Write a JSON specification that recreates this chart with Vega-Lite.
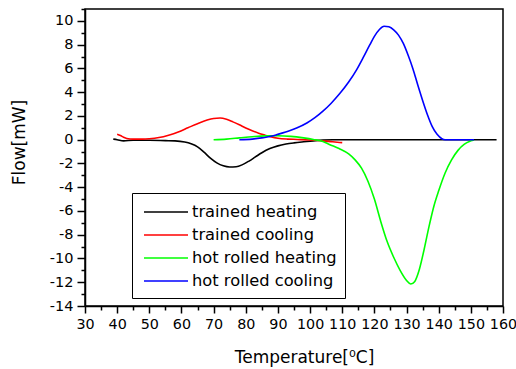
{
  "$schema": "https://vega.github.io/schema/vega-lite/v6.json",
  "width": 418,
  "height": 297,
  "autosize": "none",
  "padding": {"left": 85, "top": 9, "right": 13, "bottom": 63},
  "background": "white",
  "config": {
    "view": {"stroke": "black", "strokeWidth": 1.5},
    "font": "DejaVu Sans"
  },
  "data": {
    "values": [
      {"T": 38.8, "F": 0.05, "s": "trained heating"},
      {"T": 40, "F": 0, "s": "trained heating"},
      {"T": 42, "F": -0.1, "s": "trained heating"},
      {"T": 45, "F": -0.05, "s": "trained heating"},
      {"T": 50, "F": -0.05, "s": "trained heating"},
      {"T": 55, "F": -0.08, "s": "trained heating"},
      {"T": 58, "F": -0.1, "s": "trained heating"},
      {"T": 61, "F": -0.2, "s": "trained heating"},
      {"T": 63, "F": -0.35, "s": "trained heating"},
      {"T": 65, "F": -0.6, "s": "trained heating"},
      {"T": 67, "F": -1.05, "s": "trained heating"},
      {"T": 69, "F": -1.55, "s": "trained heating"},
      {"T": 71, "F": -1.95, "s": "trained heating"},
      {"T": 73, "F": -2.2, "s": "trained heating"},
      {"T": 75, "F": -2.3, "s": "trained heating"},
      {"T": 77, "F": -2.28, "s": "trained heating"},
      {"T": 79, "F": -2.1, "s": "trained heating"},
      {"T": 81, "F": -1.8, "s": "trained heating"},
      {"T": 83, "F": -1.45, "s": "trained heating"},
      {"T": 85, "F": -1.1, "s": "trained heating"},
      {"T": 87.5, "F": -0.75, "s": "trained heating"},
      {"T": 90, "F": -0.52, "s": "trained heating"},
      {"T": 92.5, "F": -0.37, "s": "trained heating"},
      {"T": 95, "F": -0.27, "s": "trained heating"},
      {"T": 98, "F": -0.18, "s": "trained heating"},
      {"T": 101, "F": -0.1, "s": "trained heating"},
      {"T": 104, "F": -0.03, "s": "trained heating"},
      {"T": 107, "F": 0, "s": "trained heating"},
      {"T": 120, "F": 0, "s": "trained heating"},
      {"T": 140, "F": 0, "s": "trained heating"},
      {"T": 158, "F": 0, "s": "trained heating"},

      {"T": 40, "F": 0.45, "s": "trained cooling"},
      {"T": 41, "F": 0.35, "s": "trained cooling"},
      {"T": 42, "F": 0.2, "s": "trained cooling"},
      {"T": 43, "F": 0.1, "s": "trained cooling"},
      {"T": 45, "F": 0.05, "s": "trained cooling"},
      {"T": 48, "F": 0.05, "s": "trained cooling"},
      {"T": 50, "F": 0.08, "s": "trained cooling"},
      {"T": 53, "F": 0.18, "s": "trained cooling"},
      {"T": 56, "F": 0.38, "s": "trained cooling"},
      {"T": 59, "F": 0.65, "s": "trained cooling"},
      {"T": 62, "F": 1.0, "s": "trained cooling"},
      {"T": 65, "F": 1.35, "s": "trained cooling"},
      {"T": 68, "F": 1.65, "s": "trained cooling"},
      {"T": 70, "F": 1.78, "s": "trained cooling"},
      {"T": 72, "F": 1.82, "s": "trained cooling"},
      {"T": 74, "F": 1.72, "s": "trained cooling"},
      {"T": 76, "F": 1.5, "s": "trained cooling"},
      {"T": 78, "F": 1.25, "s": "trained cooling"},
      {"T": 80, "F": 0.98, "s": "trained cooling"},
      {"T": 82, "F": 0.75, "s": "trained cooling"},
      {"T": 84, "F": 0.55, "s": "trained cooling"},
      {"T": 86, "F": 0.38, "s": "trained cooling"},
      {"T": 88, "F": 0.22, "s": "trained cooling"},
      {"T": 90, "F": 0.12, "s": "trained cooling"},
      {"T": 93, "F": 0.05, "s": "trained cooling"},
      {"T": 96, "F": 0.02, "s": "trained cooling"},
      {"T": 100, "F": -0.03, "s": "trained cooling"},
      {"T": 104, "F": -0.1, "s": "trained cooling"},
      {"T": 107, "F": -0.18, "s": "trained cooling"},
      {"T": 110, "F": -0.25, "s": "trained cooling"},

      {"T": 70, "F": 0, "s": "hot rolled heating"},
      {"T": 74, "F": 0.05, "s": "hot rolled heating"},
      {"T": 78, "F": 0.15, "s": "hot rolled heating"},
      {"T": 82, "F": 0.25, "s": "hot rolled heating"},
      {"T": 86, "F": 0.32, "s": "hot rolled heating"},
      {"T": 90, "F": 0.33, "s": "hot rolled heating"},
      {"T": 94, "F": 0.28, "s": "hot rolled heating"},
      {"T": 98, "F": 0.15, "s": "hot rolled heating"},
      {"T": 101, "F": 0.02, "s": "hot rolled heating"},
      {"T": 104, "F": -0.15, "s": "hot rolled heating"},
      {"T": 106, "F": -0.4, "s": "hot rolled heating"},
      {"T": 109, "F": -0.75, "s": "hot rolled heating"},
      {"T": 112, "F": -1.2, "s": "hot rolled heating"},
      {"T": 114, "F": -1.7, "s": "hot rolled heating"},
      {"T": 116, "F": -2.4, "s": "hot rolled heating"},
      {"T": 118, "F": -3.5, "s": "hot rolled heating"},
      {"T": 120, "F": -5.0, "s": "hot rolled heating"},
      {"T": 122, "F": -6.9, "s": "hot rolled heating"},
      {"T": 124, "F": -8.6, "s": "hot rolled heating"},
      {"T": 126, "F": -9.9, "s": "hot rolled heating"},
      {"T": 128, "F": -11.0, "s": "hot rolled heating"},
      {"T": 130, "F": -11.85, "s": "hot rolled heating"},
      {"T": 131.3, "F": -12.15, "s": "hot rolled heating"},
      {"T": 132.5, "F": -11.95, "s": "hot rolled heating"},
      {"T": 134, "F": -10.9, "s": "hot rolled heating"},
      {"T": 135.5, "F": -9.2, "s": "hot rolled heating"},
      {"T": 137, "F": -7.3, "s": "hot rolled heating"},
      {"T": 138.5, "F": -5.6, "s": "hot rolled heating"},
      {"T": 140, "F": -4.3, "s": "hot rolled heating"},
      {"T": 142, "F": -2.8, "s": "hot rolled heating"},
      {"T": 144, "F": -1.7, "s": "hot rolled heating"},
      {"T": 146, "F": -0.9, "s": "hot rolled heating"},
      {"T": 148, "F": -0.38, "s": "hot rolled heating"},
      {"T": 150, "F": -0.1, "s": "hot rolled heating"},
      {"T": 151, "F": 0, "s": "hot rolled heating"},

      {"T": 78, "F": 0, "s": "hot rolled cooling"},
      {"T": 82, "F": 0.05, "s": "hot rolled cooling"},
      {"T": 85, "F": 0.15, "s": "hot rolled cooling"},
      {"T": 87.5, "F": 0.26, "s": "hot rolled cooling"},
      {"T": 90, "F": 0.45, "s": "hot rolled cooling"},
      {"T": 93.8, "F": 0.77, "s": "hot rolled cooling"},
      {"T": 96, "F": 1.0, "s": "hot rolled cooling"},
      {"T": 99, "F": 1.4, "s": "hot rolled cooling"},
      {"T": 101.5, "F": 1.85, "s": "hot rolled cooling"},
      {"T": 104, "F": 2.4, "s": "hot rolled cooling"},
      {"T": 106.5, "F": 3.05, "s": "hot rolled cooling"},
      {"T": 109.3, "F": 3.9, "s": "hot rolled cooling"},
      {"T": 112, "F": 4.85, "s": "hot rolled cooling"},
      {"T": 114.5, "F": 5.9, "s": "hot rolled cooling"},
      {"T": 116.5, "F": 6.9, "s": "hot rolled cooling"},
      {"T": 118.6, "F": 8.0, "s": "hot rolled cooling"},
      {"T": 120, "F": 8.7, "s": "hot rolled cooling"},
      {"T": 121.5, "F": 9.25, "s": "hot rolled cooling"},
      {"T": 123, "F": 9.55, "s": "hot rolled cooling"},
      {"T": 124.5, "F": 9.5, "s": "hot rolled cooling"},
      {"T": 126, "F": 9.25, "s": "hot rolled cooling"},
      {"T": 127.5, "F": 8.8, "s": "hot rolled cooling"},
      {"T": 129, "F": 8.1, "s": "hot rolled cooling"},
      {"T": 130.5, "F": 7.1, "s": "hot rolled cooling"},
      {"T": 132, "F": 5.95, "s": "hot rolled cooling"},
      {"T": 133.5, "F": 4.6, "s": "hot rolled cooling"},
      {"T": 135, "F": 3.3, "s": "hot rolled cooling"},
      {"T": 136.5, "F": 2.1, "s": "hot rolled cooling"},
      {"T": 138, "F": 1.1, "s": "hot rolled cooling"},
      {"T": 139.5, "F": 0.45, "s": "hot rolled cooling"},
      {"T": 141, "F": 0.08, "s": "hot rolled cooling"},
      {"T": 142, "F": 0, "s": "hot rolled cooling"},
      {"T": 145, "F": 0, "s": "hot rolled cooling"},
      {"T": 151, "F": 0, "s": "hot rolled cooling"}
    ]
  },
  "mark": {"type": "line", "strokeWidth": 1.6, "interpolate": "monotone"},
  "encoding": {
    "x": {
      "field": "T", "type": "quantitative",
      "scale": {"domain": [30, 160], "nice": false, "zero": false},
      "axis": {
        "title": "Temperature[⁰C]",
        "values": [30,35,40,45,50,55,60,65,70,75,80,85,90,95,100,105,110,115,120,125,130,135,140,145,150,155,160],
        "labelExpr": "datum.value % 10 === 0 ? toString(datum.value) : ''",
        "grid": false,
        "domainColor": "black", "domainWidth": 1.5,
        "tickColor": "black", "tickWidth": 1.5,
        "tickSize": {"condition": {"test": "datum.value % 10 === 0", "value": 7}, "value": 4},
        "labelFont": "DejaVu Sans", "labelFontSize": 14.3, "labelColor": "black",
        "labelPadding": 4, "labelFlush": false, "labelOverlap": false,
        "titleFont": "DejaVu Sans", "titleFontSize": 17, "titleFontWeight": "normal", "titleColor": "black",
        "titleX": 219, "titleY": 43
      }
    },
    "y": {
      "field": "F", "type": "quantitative",
      "scale": {"domain": [-14, 11], "nice": false, "zero": false},
      "axis": {
        "title": "Flow[mW]",
        "values": [-14,-13,-12,-11,-10,-9,-8,-7,-6,-5,-4,-3,-2,-1,0,1,2,3,4,5,6,7,8,9,10,11],
        "labelExpr": "datum.value % 2 === 0 ? toString(datum.value) : ''",
        "grid": false,
        "domainColor": "black", "domainWidth": 1.5,
        "tickColor": "black", "tickWidth": 1.5,
        "tickSize": {"condition": {"test": "datum.value % 2 === 0", "value": 8}, "value": 4},
        "labelFont": "DejaVu Sans", "labelFontSize": 14.5, "labelColor": "black",
        "labelPadding": 4, "labelFlush": false, "labelOverlap": false,
        "titleFont": "DejaVu Sans", "titleFontSize": 17, "titleFontWeight": "normal", "titleColor": "black",
        "titleX": -57, "titleY": 133
      }
    },
    "color": {
      "field": "s", "type": "nominal",
      "scale": {
        "domain": ["trained heating", "trained cooling", "hot rolled heating", "hot rolled cooling"],
        "range": ["#000000", "#ff0000", "#00ff00", "#0000ff"]
      },
      "legend": {
        "title": null,
        "orient": "none",
        "legendX": 47,
        "legendY": 184,
        "strokeColor": "black",
        "fillColor": "white",
        "padding": 8,
        "symbolType": "M-2.2,0H2.2",
        "symbolSize": 400,
        "symbolOffset": 15,
        "symbolStrokeWidth": 1.5,
        "labelFont": "DejaVu Sans",
        "labelFontSize": 16.3,
        "labelColor": "black",
        "labelOffset": 15,
        "rowPadding": 3,
        "labelLimit": 300
      }
    }
  }
}
